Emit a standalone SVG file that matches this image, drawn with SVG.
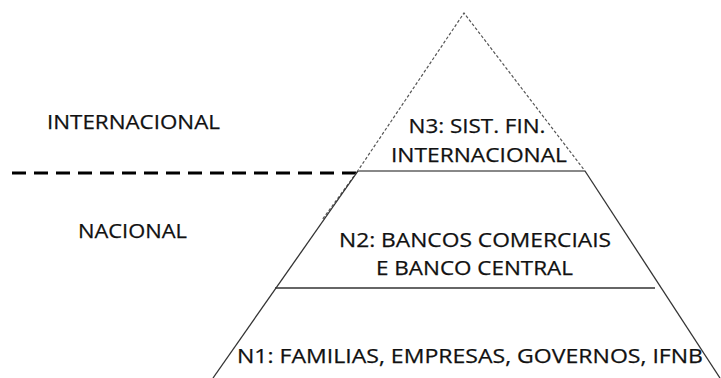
<svg xmlns="http://www.w3.org/2000/svg" width="721" height="378" viewBox="0 0 721 378">
<style>
text{font-family:"Open Sans","Liberation Sans",sans-serif;font-size:20px;fill:#111;text-anchor:middle;stroke:#111;stroke-width:0.25}
.dot{stroke:#555;stroke-width:1.2;stroke-dasharray:3 2;fill:none}
.solid{stroke:#333;stroke-width:1.3;fill:none}
.gray{stroke:#888;stroke-width:1.8;fill:none}
.div{stroke:#000;stroke-width:3;stroke-dasharray:14 8;fill:none}
</style>
<rect width="721" height="378" fill="#fff"/>
<g id="connectors">
<line class="div" x1="12" y1="173" x2="358" y2="173"/>
</g>
<g id="n3">
<polyline class="dot" points="357,172 464,13 585,171"/>
<line class="dot" x1="357" y1="172" x2="322" y2="220"/>
<line class="gray" x1="358" y1="171" x2="585" y2="171"/>
<text x="477" y="133" textLength="137" lengthAdjust="spacingAndGlyphs">N3: SIST. FIN.</text>
<text x="479" y="162" textLength="176" lengthAdjust="spacingAndGlyphs">INTERNACIONAL</text>
</g>
<g id="n2">
<line class="solid" x1="358" y1="171" x2="213" y2="378"/>
<line class="solid" x1="585" y1="171" x2="720" y2="378"/>
<line class="solid" x1="275" y1="288" x2="655" y2="288"/>
<text x="475" y="247" textLength="272" lengthAdjust="spacingAndGlyphs">N2: BANCOS COMERCIAIS</text>
<text x="474.5" y="275" textLength="197" lengthAdjust="spacingAndGlyphs">E BANCO CENTRAL</text>
</g>
<g id="n1">
<text x="470" y="363" textLength="466" lengthAdjust="spacingAndGlyphs">N1: FAMILIAS, EMPRESAS, GOVERNOS, IFNB</text>
</g>
<g id="labels">
<text x="133.5" y="129" textLength="173" lengthAdjust="spacingAndGlyphs">INTERNACIONAL</text>
<text x="132.5" y="238" textLength="109" lengthAdjust="spacingAndGlyphs">NACIONAL</text>
</g>
</svg>
